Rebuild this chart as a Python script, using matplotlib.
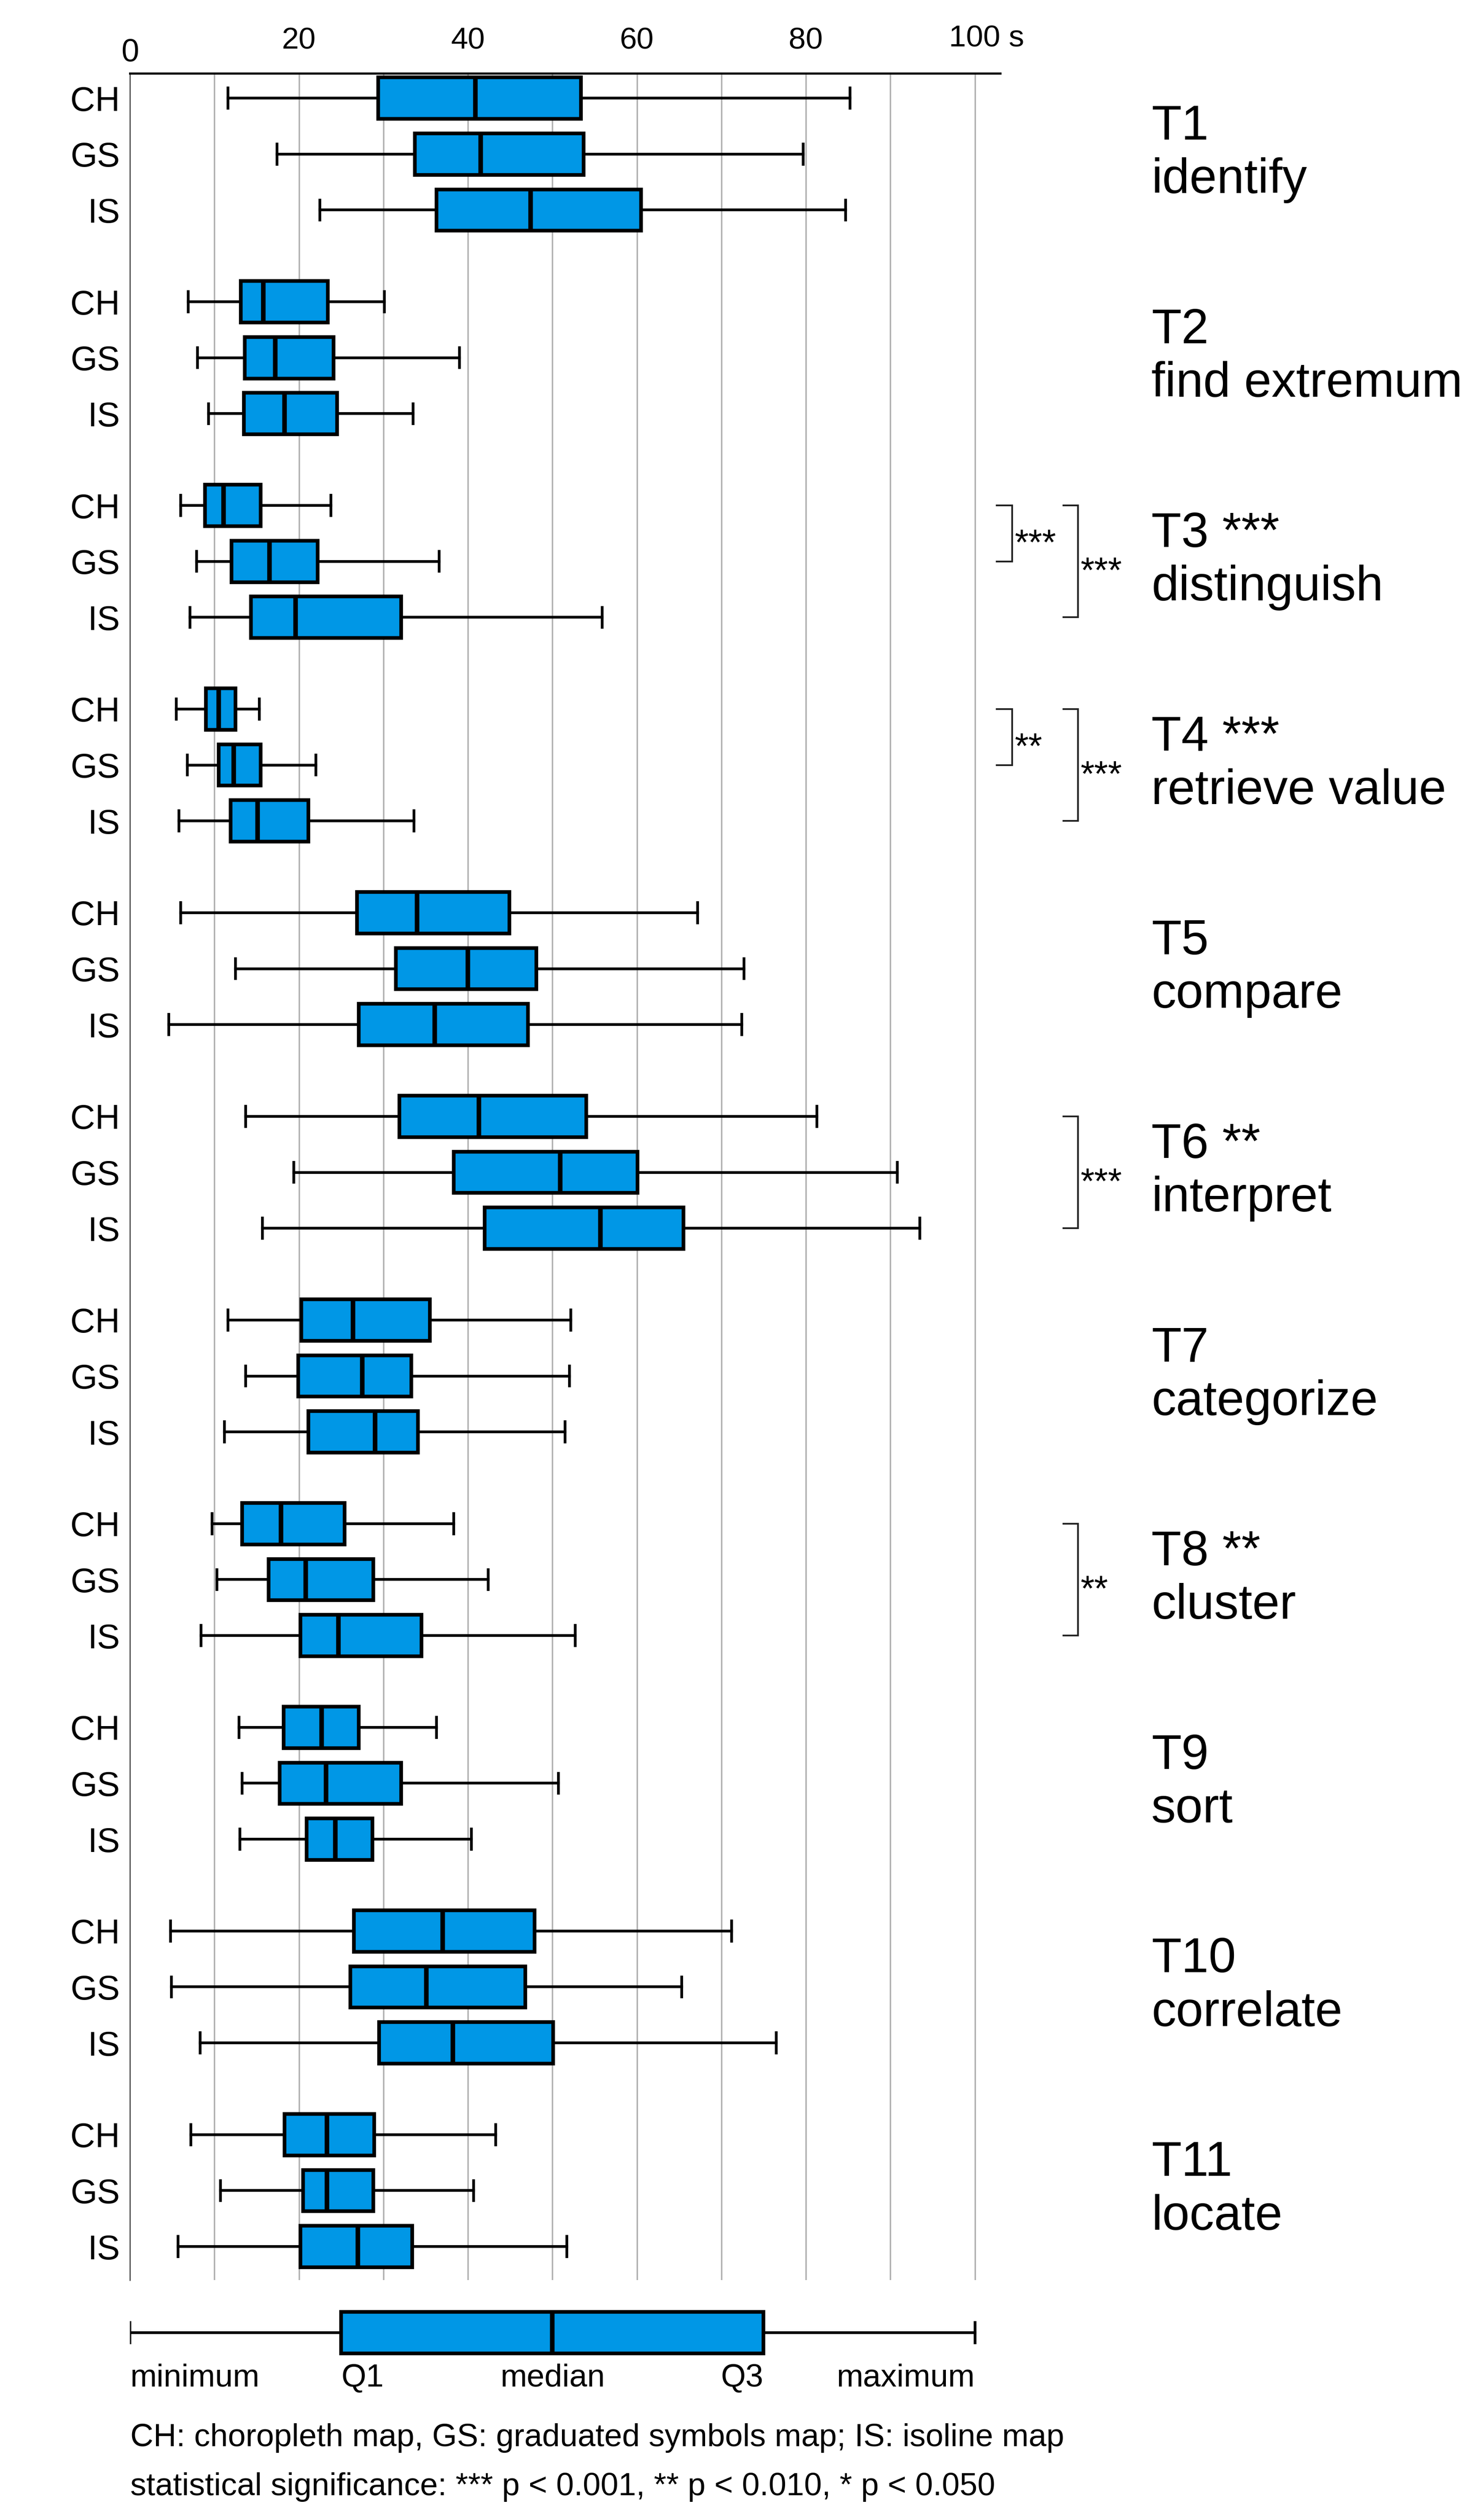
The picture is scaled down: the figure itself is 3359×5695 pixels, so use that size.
import numpy as np
import matplotlib
matplotlib.use("Agg")
import matplotlib.pyplot as plt

plt.rcParams['font.family'] = ['Liberation Sans', 'DejaVu Sans']

# --- data (seconds), rows = tasks, columns = CH, GS, IS ---
tasks = ["T1", "T2", "T3", "T4", "T5", "T6", "T7", "T8", "T9", "T10", "T11"]
task_names = ["identify", "find extremum", "distinguish", "retrieve value", "compare",
              "interpret", "categorize", "cluster", "sort", "correlate", "locate"]
task_sig = ["", "", "***", "***", "", "**", "", "**", "", "", ""]
maps = ["CH", "GS", "IS"]

minimum = [[11.6, 17.4, 22.5], [6.9, 8.0, 9.3], [6.0, 7.9, 7.1], [5.5, 6.8, 5.8],
           [6.0, 12.5, 4.6], [13.7, 19.4, 15.7], [11.6, 13.7, 11.2], [9.7, 10.3, 8.4],
           [12.9, 13.3, 13.0], [4.8, 4.9, 8.3], [7.2, 10.7, 5.7]]
q1 = [[29.4, 33.7, 36.3], [13.1, 13.6, 13.5], [8.9, 12.0, 14.3], [9.0, 10.5, 11.9],
      [26.9, 31.5, 27.1], [31.9, 38.3, 42.0], [20.3, 19.9, 21.1], [13.3, 16.4, 20.2],
      [18.2, 17.7, 20.9], [26.5, 26.1, 29.5], [18.3, 20.5, 20.2]]
median = [[40.9, 41.5, 47.4], [15.8, 17.2, 18.3], [11.1, 16.5, 19.6], [10.5, 12.3, 15.1],
          [34.0, 40.0, 36.1], [41.3, 50.9, 55.7], [26.4, 27.5, 29.0], [17.9, 20.8, 24.7],
          [22.7, 23.2, 24.3], [37.0, 35.1, 38.2], [23.3, 23.3, 27.0]]
q3 = [[53.4, 53.7, 60.5], [23.4, 24.1, 24.5], [15.5, 22.2, 32.1], [12.5, 15.5, 21.1],
      [44.9, 48.1, 47.1], [54.0, 60.1, 65.5], [35.5, 33.3, 34.1], [25.4, 28.8, 34.5],
      [27.1, 32.1, 28.7], [47.9, 46.8, 50.1], [28.9, 28.8, 33.4]]
maximum = [[85.2, 79.7, 84.7], [30.1, 39.0, 33.5], [23.8, 36.6, 55.9], [15.3, 22.0, 33.6],
           [67.2, 72.7, 72.4], [81.3, 90.8, 93.5], [52.2, 52.0, 51.5], [38.3, 42.4, 52.7],
           [36.3, 50.7, 40.4], [71.2, 65.3, 76.5], [43.3, 40.7, 51.7]]

# pairwise tests: (task index, first map, second map, stars, bracket level)
pair_tests = [(2, 0, 1, "***", 0), (2, 0, 2, "***", 1),
              (3, 0, 1, "**", 0), (3, 0, 2, "***", 1),
              (5, 0, 2, "***", 1), (7, 0, 2, "**", 1)]

# legend box
legend_stats = [0, 25, 50, 75, 100]
legend_labels = ["minimum", "Q1", "median", "Q3", "maximum"]

footnotes = ["CH: choropleth map, GS: graduated symbols map; IS: isoline map",
             "statistical significance: *** p < 0.001, ** p < 0.010, * p < 0.050"]

# --- style ---
BLUE = "#0097E6"
W, H = 3359, 5695
GROUP = 3.64
box_kw = dict(widths=0.74, capwidths=0.36, orientation="horizontal", patch_artist=True,
              showfliers=False, manage_ticks=False,
              boxprops=dict(facecolor=BLUE, edgecolor="black", linewidth=6),
              medianprops=dict(color="black", linewidth=7.5),
              whiskerprops=dict(color="black", linewidth=4.5),
              capprops=dict(color="black", linewidth=4.5))

fig = plt.figure(figsize=(W / 100, H / 100), dpi=100, facecolor="white")
ax = fig.add_axes([294 / W, 1 - 5161 / H, 1970 / W, (5161 - 166) / H])

def pos(g, m):
    return g * GROUP + m

stats, positions = [], []
for g in range(len(tasks)):
    for m in range(len(maps)):
        stats.append(dict(whislo=minimum[g][m], q1=q1[g][m], med=median[g][m],
                          q3=q3[g][m], whishi=maximum[g][m], fliers=[]))
        positions.append(pos(g, m))

ax.bxp(stats, positions=positions, zorder=3, **box_kw)

ax.set_xlim(0, 103)
ax.set_ylim(pos(10, 2) + 0.6, -0.443)

# grid + axes
ax.set_xticks(np.arange(0, 101, 10))
ax.set_xticklabels(["", "", "20", "", "40", "", "60", "", "80", "", ""])
ax.xaxis.tick_top()
ax.tick_params(axis="x", length=0, pad=30, labelsize=50)
ax.grid(axis="x", color="#b0b0b0", linewidth=2.4, zorder=0)
ax.set_axisbelow(True)
ax.set_yticks(positions)
ax.set_yticklabels(maps * len(tasks))
ax.tick_params(axis="y", length=0, pad=16, labelsize=56)
for s in ("right", "bottom"):
    ax.spines[s].set_visible(False)
ax.spines["top"].set_linewidth(3.5)
ax.spines["left"].set_color("#555555")
ax.spines["left"].set_linewidth(2)

xt = ax.get_xaxis_transform()
ax.text(0, 1 + 46 / 4995, "0", transform=xt, ha="center", va="center", fontsize=52, clip_on=False)
ax.text(100 - 3.05, 1 + 78 / 4995, "100 s", transform=xt, ha="left", va="center",
        fontsize=50, clip_on=False)

# task labels on the right
for g in range(len(tasks)):
    y = pos(g, 1)
    head = tasks[g] + (" " + task_sig[g] if task_sig[g] else "")
    ax.text(120.9, y - 0.26, head, fontsize=80, va="baseline", ha="left", clip_on=False)
    ax.text(120.9, y + 0.70, task_names[g], fontsize=80, va="baseline", ha="left", clip_on=False)

# significance brackets
levels = {0: (102.6, 104.4), 1: (110.5, 112.2)}
for g, a, b, stars, lev in pair_tests:
    x0, x1 = levels[lev]
    ya, yb = pos(g, a), pos(g, b)
    ax.plot([x0, x1, x1, x0], [ya, ya, yb, yb], color="#222222", linewidth=2.8,
            clip_on=False, solid_joinstyle="miter")
    ax.text(x1 + 0.3, (ya + yb) / 2 + 0.37, stars, fontsize=58, va="baseline",
            ha="left", clip_on=False)

# legend box
lax = fig.add_axes([294 / W, 1 - 5360 / H, 1970 / W, 160 / H])
lax.bxp([dict(whislo=legend_stats[0], q1=legend_stats[1], med=legend_stats[2],
              q3=legend_stats[3], whishi=legend_stats[4], fliers=[])],
        positions=[0], **box_kw)
lax.set_xlim(0, 103)
lax.set_ylim(0.635, -0.635)
lax.axis("off")
ly = 0.966
aligns = ["left", "left", "center", "right", "right"]
for v, lab, ha in zip(legend_stats, legend_labels, aligns):
    lax.text(v, ly, lab, ha=ha, va="baseline", fontsize=52, clip_on=False)

# footnotes
fig.text(295 / W, 1 - 5537 / H, footnotes[0], ha="left", va="baseline", fontsize=52)
fig.text(295 / W, 1 - 5648 / H, footnotes[1], ha="left", va="baseline", fontsize=52)

fig.savefig("out.png", dpi=100, facecolor="white")
